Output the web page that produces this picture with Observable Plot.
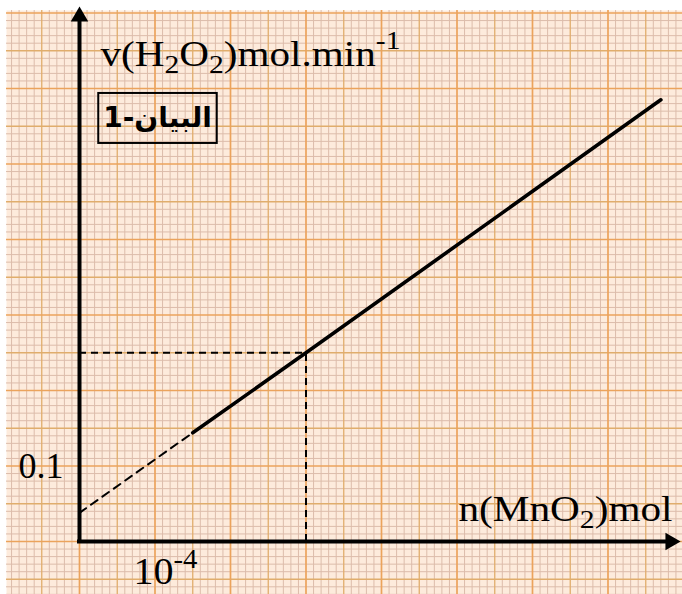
<!DOCTYPE html>
<html>
<head>
<meta charset="utf-8">
<script src="https://cdn.jsdelivr.net/npm/d3@7"></script>
<script src="https://cdn.jsdelivr.net/npm/@observablehq/plot@0.6"></script>
<style>
  html, body { margin: 0; padding: 0; background: #ffffff; }
  #chart svg { display: block; }
</style>
</head>
<body>
<div id="chart"></div>
<script>
// ---- data (n in units of 10^-4 mol, v in mol/min) ----
const solidN = [1.5, 3, 7.7];
const solidV = [0.144, 0.25, 0.585];
const dashN = [0, 1.5];
const dashV = [0.038, 0.144];
const markN = [3];
const markV = [0.25];
const xTickValues = [1];
const xTickLabels = ["10⁻⁴"];
const yTickValues = [0.1];
const yTickLabels = ["0.1"];
const xTitle = "n(MnO₂)mol";
const yTitle = "v(H₂O₂)mol.min⁻¹";
const graphLabel = "البيان-1";

// ---- layout ----
const W = 682, H = 594;
const cell = 75.5;            // px per major square
const ox = 79, oy = 541;      // origin in px
const xDomain = [-ox / cell, (W - ox) / cell];
const yDomain = [-(H - oy) / (cell * 10), oy / (cell * 10)];
const FS = 36;
const serif = "'Liberation Serif', 'DejaVu Serif', serif";

const solid = solidN.map((n, i) => ({n, v: solidV[i]}));
const dashed = dashN.map((n, i) => ({n, v: dashV[i]}));
const marks = markN.map((n, i) => ({n, v: markV[i]}));

const gridX = d3.range(-9, 81).map(i => ({v: i / 10, k: i % 10 === 0 ? 2 : i % 5 === 0 ? 1 : 0}));
const gridY = d3.range(-7, 71).map(i => ({v: i / 100, k: i % 10 === 0 ? 2 : i % 5 === 0 ? 1 : 0}));
const gStroke = ["#dcbcaa", "#e0ad6c", "#eba35c"];
const gWidth = [1, 1.3, 1.7];

const axisTopV = (oy - 16) / (cell * 10);
const axisRightN = (W - 12 - ox) / cell;

const gridMarks = [];
for (const k of [0, 1, 2]) {
  gridMarks.push(Plot.ruleX(gridX.filter(d => d.k === k), {x: "v", stroke: gStroke[k], strokeWidth: gWidth[k], insetTop: 10}));
  gridMarks.push(Plot.ruleY(gridY.filter(d => d.k === k), {y: "v", stroke: gStroke[k], strokeWidth: gWidth[k], insetLeft: 6}));
}

const chart = Plot.plot({
  width: W, height: H,
  margin: 0,
  x: {domain: xDomain, axis: null},
  y: {domain: yDomain, axis: null},
  style: {background: "#ffffff", overflow: "visible"},
  marks: [
    Plot.frame({fill: "#fdebdc", stroke: null, insetTop: 10, insetLeft: 6}),
    ...gridMarks,
    // dashed guides
    Plot.ruleY(marks, {y: "v", x1: 0, x2: "n", stroke: "black", strokeWidth: 2, strokeDasharray: "7,5"}),
    Plot.ruleX(marks, {x: "n", y1: 0, y2: "v", stroke: "black", strokeWidth: 2, strokeDasharray: "7,5"}),
    // extrapolation
    Plot.line(dashed, {x: "n", y: "v", stroke: "black", strokeWidth: 2, strokeDasharray: "8,6"}),
    // measured line
    Plot.line(solid, {x: "n", y: "v", stroke: "black", strokeWidth: 3.6, strokeLinecap: "round"}),
    // axes
    Plot.ruleX([0], {x: d => d, y1: 0, y2: axisTopV, stroke: "black", strokeWidth: 4, strokeLinecap: "square"}),
    Plot.ruleY([0], {y: d => d, x1: 0, x2: axisRightN, stroke: "black", strokeWidth: 4, strokeLinecap: "square"}),
    Plot.dot([0], {x: 0, y: axisTopV, symbol: "triangle", r: 6.5, fill: "black", stroke: null}),
    Plot.dot([0], {x: axisRightN, y: 0, symbol: "triangle", r: 6.5, fill: "black", stroke: null, rotate: 90}),
    // tick labels
    Plot.text(yTickValues, {x: 0, y: d => d, text: (d, i) => yTickLabels[i], textAnchor: "end", dx: -16, fontSize: FS, fontFamily: serif, fill: "black", lineAnchor: "middle"}),
    Plot.text(xTickValues, {x: d => d, y: 0, text: (d, i) => xTickLabels[i], textAnchor: "start", dx: -21.5, dy: 31, fontSize: 37, fontFamily: serif, fill: "black", lineAnchor: "middle", className: "xtick"}),
    // titles
    Plot.text([yTitle], {frameAnchor: "top-left", text: d => d, textAnchor: "start", dx: 100, dy: 53.5, fontSize: FS, fontFamily: serif, fill: "black", lineAnchor: "middle", className: "ytitle"}),
    Plot.text([xTitle], {frameAnchor: "top-left", text: d => d, textAnchor: "start", dx: 458, dy: 508.5, fontSize: FS, fontFamily: serif, fill: "black", lineAnchor: "middle", className: "xtitle"}),
    Plot.text([graphLabel], {frameAnchor: "top-left", text: d => d, textAnchor: "middle", dx: 157, dy: 118, fontSize: 28, fontWeight: "bold", fontFamily: "'DejaVu Sans', sans-serif", fill: "black", lineAnchor: "middle", className: "graph-label"})
  ]
});

document.getElementById("chart").appendChild(chart);

// ---- rich text: sub/superscripts as tspans ----
const subMap = {"₂": "2"};
const supMap = {"⁻": "-", "¹": "1", "⁴": "4"};
chart.querySelectorAll("text").forEach(t => {
  const s = t.textContent;
  if (![...s].some(c => subMap[c] || supMap[c])) return;
  const fs = parseFloat(t.closest("[font-size]")?.getAttribute("font-size")) || FS;
  const segs = [];
  for (const c of s) {
    const type = subMap[c] ? "sub" : supMap[c] ? "sup" : "n";
    const ch = subMap[c] || supMap[c] || c;
    if (segs.length && segs[segs.length - 1].type === type) segs[segs.length - 1].txt += ch;
    else segs.push({type, txt: ch});
  }
  t.textContent = "";
  let shift = 0;
  for (const sg of segs) {
    const ts = document.createElementNS("http://www.w3.org/2000/svg", "tspan");
    const target = sg.type === "sub" ? 0.22 * fs : sg.type === "sup" ? -0.45 * fs : 0;
    if (target !== shift) ts.setAttribute("dy", target - shift);
    shift = target;
    if (sg.type !== "n") ts.setAttribute("font-size", 0.72 * fs);
    ts.textContent = sg.txt;
    t.appendChild(ts);
  }
});

// stretch titles to the widths they take in the reference
const fitWidths = {ytitle: 300, xtitle: 214, xtick: 64};
for (const [cls, w] of Object.entries(fitWidths)) {
  const t = chart.querySelector("." + cls + " text");
  if (t) { t.setAttribute("textLength", w); t.setAttribute("lengthAdjust", "spacingAndGlyphs"); }
}

// ---- box around graph label ----
const lab = chart.querySelector(".graph-label text");
if (lab) {
  const sb = chart.getBoundingClientRect();
  const b = lab.getBoundingClientRect();
  const cx = b.left - sb.left + b.width / 2;
  const cy = b.top - sb.top + b.height / 2;
  const bw = b.width + 10, bh = 50;
  const r = document.createElementNS("http://www.w3.org/2000/svg", "rect");
  r.setAttribute("x", cx - bw / 2);
  r.setAttribute("y", cy - bh / 2);
  r.setAttribute("width", bw);
  r.setAttribute("height", bh);
  r.setAttribute("fill", "none");
  r.setAttribute("stroke", "black");
  r.setAttribute("stroke-width", 2);
  chart.appendChild(r);
}
</script>
</body>
</html>
